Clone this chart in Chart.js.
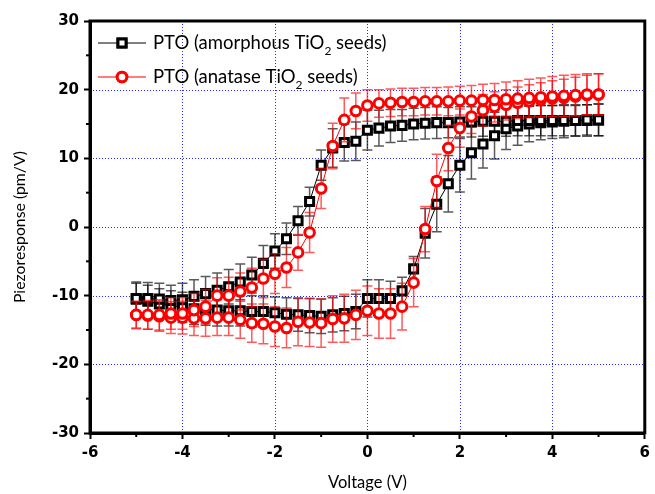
<!DOCTYPE html>
<html>
<head>
<meta charset="utf-8">
<script src="https://cdn.jsdelivr.net/npm/chart.js@4.4.1/dist/chart.umd.min.js"></script>
<style>
  body { margin: 0; background: #fff; }
  #wrap { width: 655px; height: 494px; }
</style>
</head>
<body>
<div id="wrap"><canvas id="myChart" width="655" height="494"></canvas></div>
<script>
const volts = [-5, -4.75, -4.5, -4.25, -4, -3.75, -3.5, -3.25, -3, -2.75, -2.5, -2.25, -2, -1.75, -1.5, -1.25, -1, -0.75, -0.5, -0.25,
  0, 0.25, 0.5, 0.75, 1, 1.25, 1.5, 1.75, 2, 2.25, 2.5, 2.75, 3, 3.25, 3.5, 3.75, 4, 4.25, 4.5, 4.75, 5];

// amorphous seeds: ascending sweep (-5 -> 5) and descending sweep (read at the same voltages)
const amorphUp = [-10.5, -10.8, -11.2, -11.5, -11.7, -11.9, -12.0, -12.1, -12.2, -12.2, -12.3, -12.3, -12.5, -12.7, -12.8, -12.9, -13.0, -12.8, -12.6, -12.3,
  -10.4, -10.4, -10.4, -9.3, -6.1, -0.9, 3.3, 6.3, 9.0, 10.8, 12.1, 13.3, 14.3, 14.7, 15.0, 15.2, 15.3, 15.4, 15.5, 15.5, 15.6];
const amorphDown = [-10.4, -10.4, -10.5, -10.7, -10.6, -10.1, -9.7, -9.2, -8.7, -8.0, -7.0, -5.3, -3.5, -1.7, 0.9, 3.7, 9.0, 11.5, 12.3, 12.5,
  14.1, 14.4, 14.7, 14.8, 15.0, 15.1, 15.2, 15.2, 15.3, 15.3, 15.4, 15.4, 15.4, 15.5, 15.5, 15.5, 15.5, 15.5, 15.5, 15.6, 15.6];
const amorphUpErr = [2.3, 2.3, 2.2, 2.2, 2.2, 2.3, 2.3, 2.3, 2.2, 2.2, 2.3, 2.3, 2.3, 2.4, 2.4, 2.5, 2.5, 2.5, 2.5, 2.5,
  2.7, 2.7, 2.5, 2.0, 1.8, 3.6, 4.0, 4.1, 3.9, 3.8, 3.5, 3.4, 3.0, 2.8, 2.6, 2.5, 2.4, 2.4, 2.3, 2.3, 2.3];
const amorphDownErr = [2.4, 2.3, 2.3, 2.2, 2.4, 2.4, 2.5, 2.5, 2.5, 2.6, 2.6, 2.6, 2.5, 2.3, 2.1, 2.1, 2.2, 2.8, 2.7, 2.8,
  2.9, 2.6, 2.4, 2.3, 2.3, 2.3, 2.3, 2.2, 2.2, 2.2, 2.2, 2.2, 2.2, 2.2, 2.2, 2.2, 2.2, 2.2, 2.2, 2.2, 2.3];

// anatase seeds
const anataseUp = [-12.8, -12.9, -13.0, -13.2, -13.2, -13.3, -13.3, -13.2, -13.2, -13.5, -14.0, -14.1, -14.5, -14.7, -13.8, -13.9, -14.0, -13.4, -13.3, -12.8,
  -12.2, -12.6, -12.6, -11.6, -8.1, -0.3, 6.7, 11.5, 14.4, 16.1, 17.0, 17.5, 17.8, 18.1, 18.3, 18.5, 18.7, 18.8, 19.0, 19.2, 19.3];
const anataseDown = [-12.8, -12.8, -12.8, -12.6, -12.6, -12.1, -11.6, -10.0, -10.0, -9.4, -8.8, -7.5, -6.8, -5.9, -3.7, -0.8, 5.6, 11.8, 15.6, 16.9,
  17.7, 18.0, 18.1, 18.2, 18.2, 18.3, 18.3, 18.3, 18.4, 18.4, 18.5, 18.5, 18.6, 18.7, 18.8, 18.9, 19.0, 19.1, 19.2, 19.3, 19.3];
const anataseUpErr = [1.9, 2.0, 2.2, 2.3, 2.4, 2.5, 2.6, 2.6, 2.6, 2.7, 2.8, 2.9, 2.9, 2.9, 3.5, 3.5, 3.5, 3.4, 3.5, 3.6,
  3.6, 3.6, 3.6, 3.4, 3.5, 3.3, 3.9, 3.3, 2.8, 2.5, 2.3, 2.2, 2.2, 2.3, 2.4, 2.5, 2.6, 2.7, 2.8, 2.9, 3.0];
const anataseDownErr = [2.0, 2.1, 2.2, 2.3, 2.3, 2.4, 2.5, 2.6, 2.7, 2.7, 2.8, 2.8, 2.9, 2.9, 2.6, 2.9, 2.9, 3.3, 3.2, 2.6,
  2.3, 2.0, 2.0, 2.0, 2.0, 2.0, 2.0, 2.1, 2.1, 2.2, 2.3, 2.4, 2.5, 2.6, 2.7, 2.8, 2.9, 3.0, 3.0, 3.0, 3.0];

const xTicks = [-6, -4, -2, 0, 2, 4, 6];
const yTicks = [-30, -20, -10, 0, 10, 20, 30];

const FONT = "Lato";
const TICK_FONT = "'DejaVu Sans'";

function buildLoop(up, down, upErr, downErr) {
  let pts = [];
  for (let i = 0; i < volts.length; i++) {
    pts.push({ x: volts[i], y: up[i], err: upErr[i] });
  }
  for (let i = volts.length - 1; i >= 0; i--) {
    pts.push({ x: volts[i], y: down[i], err: downErr[i] });
  }
  return pts;
}

const errorBars = {
  id: "errorBars",
  beforeDatasetDraw(chart, args) {
    const ds = chart.data.datasets[args.index];
    const xs = chart.scales.x, ys = chart.scales.y;
    const ctx = chart.ctx;
    ctx.save();
    ctx.strokeStyle = ds.errColor;
    ctx.lineWidth = 1.5;
    for (const p of ds.data) {
      const px = xs.getPixelForValue(p.x);
      const y1 = ys.getPixelForValue(p.y + p.err);
      const y2 = ys.getPixelForValue(p.y - p.err);
      ctx.beginPath();
      ctx.moveTo(px, y1); ctx.lineTo(px, y2);
      ctx.moveTo(px - 5, y1); ctx.lineTo(px + 5, y1);
      ctx.moveTo(px - 5, y2); ctx.lineTo(px + 5, y2);
      ctx.stroke();
    }
    ctx.restore();
  },
};

const frame = {
  id: "frame",
  beforeDatasetsDraw(chart) {
    const { ctx, chartArea: a, scales } = chart;
    ctx.save();
    ctx.strokeStyle = "rgba(0,0,255,0.85)";
    ctx.lineWidth = 1;
    ctx.setLineDash([1, 2]);
    for (const v of xTicks.slice(1, -1)) {
      const px = Math.round(scales.x.getPixelForValue(v)) + 0.5;
      ctx.beginPath(); ctx.moveTo(px, a.top); ctx.lineTo(px, a.bottom); ctx.stroke();
    }
    for (const v of yTicks.slice(1, -1)) {
      const py = Math.round(scales.y.getPixelForValue(v)) + 0.5;
      ctx.beginPath(); ctx.moveTo(a.left, py); ctx.lineTo(a.right, py); ctx.stroke();
    }
    ctx.restore();
  },
  afterDraw(chart) {
    const { ctx, chartArea: a, scales } = chart;
    ctx.save();
    ctx.strokeStyle = "#000";
    ctx.lineWidth = 3;
    ctx.strokeRect(a.left, a.top, a.right - a.left, a.bottom - a.top);
    // minor ticks
    ctx.lineWidth = 2;
    for (let i = 0; i < xTicks.length - 1; i++) {
      const px = scales.x.getPixelForValue((xTicks[i] + xTicks[i + 1]) / 2);
      ctx.beginPath(); ctx.moveTo(px, a.bottom); ctx.lineTo(px, a.bottom + 4); ctx.stroke();
    }
    for (let i = 0; i < yTicks.length - 1; i++) {
      const py = scales.y.getPixelForValue((yTicks[i] + yTicks[i + 1]) / 2);
      ctx.beginPath(); ctx.moveTo(a.left, py); ctx.lineTo(a.left - 4, py); ctx.stroke();
    }
    ctx.restore();

    // legend
    const items = [
      { color: "#000", style: "rect", r: 5.7, a: "PTO (amorphous TiO", b: " seeds)", y: 43 },
      { color: "#ff0000", style: "circle", r: 4.8, a: "PTO (anatase TiO", b: " seeds)", y: 77 },
    ];
    ctx.save();
    for (const it of items) {
      ctx.strokeStyle = it.color;
      ctx.lineWidth = 1.2;
      ctx.beginPath(); ctx.moveTo(98, it.y); ctx.lineTo(146, it.y); ctx.stroke();
      ctx.lineWidth = 3;
      ctx.fillStyle = "#fff";
      Chart.helpers.drawPoint(ctx, { pointStyle: it.style, radius: it.r, borderWidth: 3 }, 122, it.y);
      ctx.fill(); ctx.stroke();
      ctx.fillStyle = "#000";
      ctx.textBaseline = "middle";
      ctx.font = "18.5px " + FONT;
      ctx.fillText(it.a, 153, it.y);
      let w = ctx.measureText(it.a).width;
      ctx.font = "12px " + FONT;
      ctx.fillText("2", 153 + w, it.y + 8);
      let w2 = ctx.measureText("2").width;
      ctx.font = "18.5px " + FONT;
      ctx.fillText(it.b, 153 + w + w2, it.y);
    }
    ctx.restore();
  },
};

function drawChart() {
  const ctx = document.getElementById("myChart").getContext("2d");
  const myChart = new Chart(ctx, {
    type: "scatter",
    data: {
      datasets: [
        {
          label: "PTO (amorphous TiO2 seeds)",
          data: buildLoop(amorphUp, amorphDown, amorphUpErr, amorphDownErr),
          showLine: true,
          borderColor: "#000",
          borderWidth: 1,
          pointStyle: "rect",
          pointRadius: 5.7,
          pointBorderWidth: 3,
          pointBorderColor: "#000",
          pointBackgroundColor: "#fff",
          errColor: "rgba(0,0,0,0.65)",
          order: 1,
        },
        {
          label: "PTO (anatase TiO2 seeds)",
          data: buildLoop(anataseUp, anataseDown, anataseUpErr, anataseDownErr),
          showLine: true,
          borderColor: "#ff0000",
          borderWidth: 1,
          pointStyle: "circle",
          pointRadius: 4.8,
          pointBorderWidth: 3,
          pointBorderColor: "#ff0000",
          pointBackgroundColor: "#fff",
          errColor: "rgba(255,0,0,0.65)",
          order: 0,
        },
      ],
    },
    options: {
      animation: false,
      responsive: false,
      layout: { padding: { top: 21, right: 4, left: 0, bottom: 0 } },
      plugins: { legend: { display: false }, tooltip: { enabled: false } },
      scales: {
        x: {
          type: "linear",
          min: -6,
          max: 6,
          afterBuildTicks: (s) => { s.ticks = xTicks.map((v) => ({ value: v })); },
          afterFit: (s) => { s.height = 61; },
          ticks: { color: "#000", padding: 5, font: { family: TICK_FONT, weight: "bold", size: 15 } },
          grid: { drawOnChartArea: false, tickLength: 6, tickColor: "#000", tickWidth: 2 },
          border: { color: "#000", width: 3 },
          title: { display: true, text: "Voltage (V)", color: "#000", padding: { top: 2, bottom: 1 }, font: { family: FONT, size: 16.5 } },
        },
        y: {
          min: -30,
          max: 30,
          afterBuildTicks: (s) => { s.ticks = yTicks.map((v) => ({ value: v })); },
          afterFit: (s) => { s.width = 90; },
          ticks: { color: "#000", padding: 5, font: { family: TICK_FONT, weight: "bold", size: 15 } },
          grid: { drawOnChartArea: false, tickLength: 6, tickColor: "#000", tickWidth: 2 },
          border: { color: "#000", width: 3 },
          title: { display: true, text: "Piezoresponse (pm/V)", color: "#000", padding: { top: 10, bottom: 0 }, font: { family: FONT, size: 15.8 } },
        },
      },
    },
    plugins: [errorBars, frame],
  });
}

drawChart();
</script>
</body>
</html>
